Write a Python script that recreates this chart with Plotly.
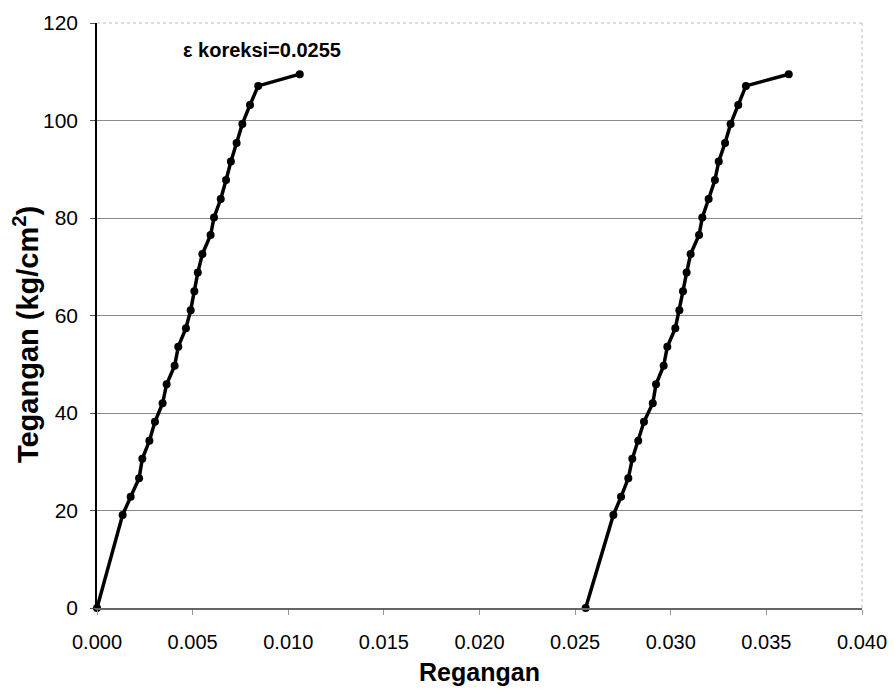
import plotly.graph_objects as go

strain_original = [0.0, 0.00134, 0.00176, 0.0022, 0.00237, 0.00274, 0.00303, 0.00343, 0.00364,
                   0.00406, 0.00425, 0.00465, 0.0049, 0.00509, 0.00527, 0.00551, 0.00594, 0.00612,
                   0.00647, 0.00675, 0.0070, 0.0073, 0.0076, 0.0080, 0.00843, 0.0106]
strain_corrected = [0.02555, 0.0270, 0.0274, 0.02778, 0.02799, 0.0283, 0.0286, 0.02906, 0.02923,
                    0.02963, 0.02982, 0.03024, 0.03045, 0.03064, 0.03083, 0.03104, 0.03148, 0.03165,
                    0.03198, 0.03231, 0.03251, 0.03284, 0.03313, 0.03353, 0.03393, 0.03617]
stress = [0.0, 19.1, 22.8, 26.6, 30.6, 34.3, 38.2, 42.0, 45.9, 49.7, 53.6, 57.4, 61.1, 65.0,
          68.8, 72.6, 76.5, 80.1, 83.9, 87.8, 91.6, 95.4, 99.3, 103.2, 107.1, 109.5]

x_ticks = [0.000, 0.005, 0.010, 0.015, 0.020, 0.025, 0.030, 0.035, 0.040]
x_tick_labels = ["0.000", "0.005", "0.010", "0.015", "0.020", "0.025", "0.030", "0.035", "0.040"]
y_ticks = [0, 20, 40, 60, 80, 100, 120]

font_family = "Liberation Sans, Arial, sans-serif"

fig = go.Figure()
for xs in (strain_original, strain_corrected):
    fig.add_trace(go.Scatter(
        x=xs, y=stress, mode="lines+markers",
        line=dict(color="black", width=3.5),
        marker=dict(color="black", size=8, symbol="circle"),
        showlegend=False, cliponaxis=False,
    ))

fig.add_annotation(x=0.00865, y=114.5, text="<b>ε koreksi=0.0255</b>", showarrow=False,
                   font=dict(family=font_family, size=20, color="black"))

# y-axis title (rotated text, slightly below centre as in the reference)
fig.add_annotation(xref="paper", yref="paper", x=-0.093, y=0.468, textangle=-90,
                   text="<b>Tegangan (kg/cm<sup>2</sup>)</b>", showarrow=False,
                   xanchor="center", yanchor="middle",
                   font=dict(family=font_family, size=29, color="black"))

fig.update_layout(
    width=894, height=689,
    margin=dict(l=97, r=32, t=23, b=81),
    paper_bgcolor="white", plot_bgcolor="white",
    font=dict(family=font_family, color="black"),
    xaxis=dict(
        range=[0, 0.040], tickvals=x_ticks, ticktext=x_tick_labels,
        showgrid=False, zeroline=False, automargin=False,
        showline=True, linecolor="#666666", linewidth=1.5,
        ticks="outside", ticklen=5, tickcolor="#999999",
        ticklabelstandoff=10,
        tickfont=dict(size=20, family=font_family),
        title=dict(text="<b>Regangan</b>", font=dict(size=25, family=font_family), standoff=12),
    ),
    yaxis=dict(
        range=[0, 120], tickvals=y_ticks,
        showgrid=True, gridcolor="#8a8a8a", gridwidth=1,
        zeroline=False, automargin=False,
        showline=True, linecolor="black", linewidth=1.5,
        ticks="outside", ticklen=5, tickcolor="#555555",
        ticklabelstandoff=8,
        tickfont=dict(size=21, family=font_family),
    ),
)

fig.add_shape(type="line", xref="paper", yref="paper", x0=1, x1=1, y0=0, y1=1,
              line=dict(color="#bbbbbb", width=1, dash="dot"))
fig.add_shape(type="line", xref="paper", yref="paper", x0=0, x1=1, y0=1, y1=1,
              line=dict(color="#bbbbbb", width=1, dash="dot"))

fig.write_html("out.html", config={"displayModeBar": False},
               post_script="document.body.style.margin='0';document.body.style.overflow='hidden';")
